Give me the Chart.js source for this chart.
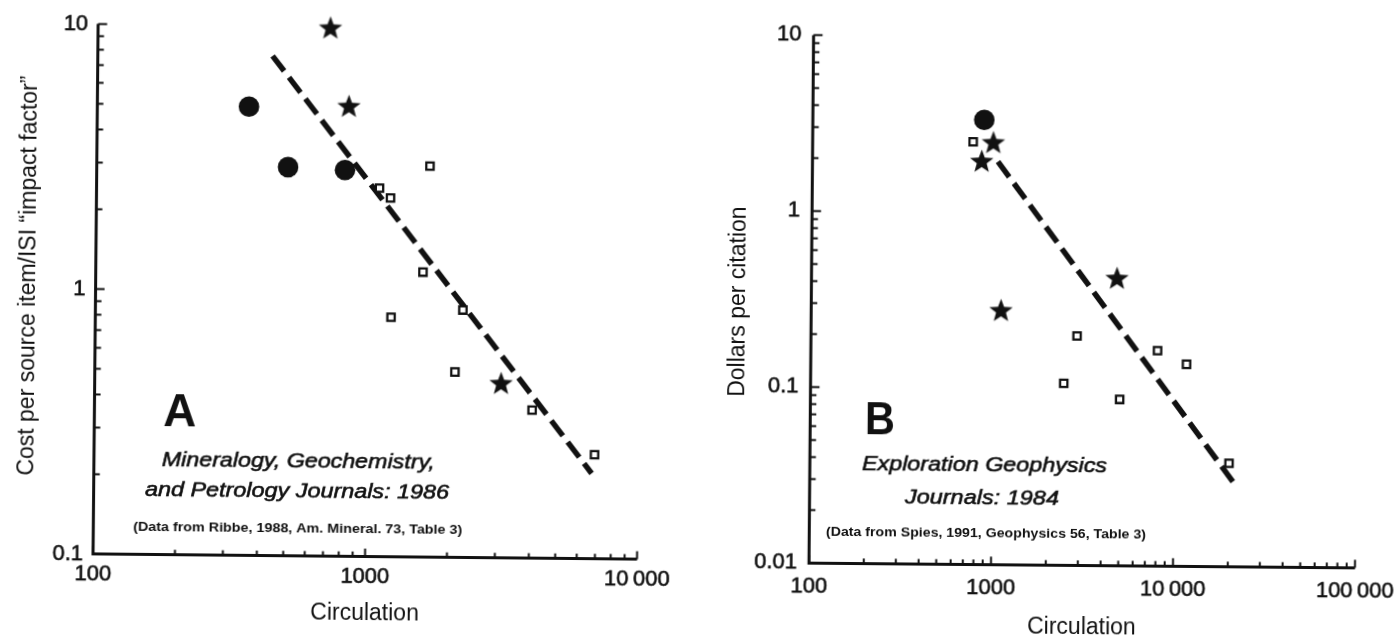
<!DOCTYPE html>
<html><head><meta charset="utf-8">
<script src="https://cdn.jsdelivr.net/npm/chart.js@4.4.1/dist/chart.umd.min.js"></script>
<style>
html,body{margin:0;padding:0;background:#fff;overflow:hidden;width:1398px;height:637px;position:relative;}
#wa{position:absolute;left:0;top:0;width:700px;height:637px;transform:rotate(0.55deg);transform-origin:365px 290px;}
#wb{position:absolute;left:700px;top:0;width:720px;height:645px;transform:rotate(0.5deg);transform-origin:381px 299px;}
</style></head><body>
<div id="wa"><canvas id="ca" width="700" height="637"></canvas></div>
<div id="wb"><canvas id="cb" width="720" height="645"></canvas></div>
<script>
const FONT = "'Liberation Sans', Arial, Helvetica, sans-serif";
const INK = '#111111';

// ---- Panel A: Mineralogy, Geochemistry, and Petrology Journals: 1986 ----
const A_STAR_X   = [715, 841, 3119];
const A_STAR_Y   = [9.8, 4.97, 0.453];
const A_CIRCLE_X = [361, 505, 818];
const A_CIRCLE_Y = [4.94, 2.93, 2.87];
const A_SQUARE_X = [1097, 1205, 1679, 1596, 2244, 1222, 2109, 4064, 6920];
const A_SQUARE_Y = [2.46, 2.26, 2.99, 1.19, 0.859, 0.802, 0.501, 0.362, 0.247];
const A_FIT_X    = [439, 6762];
const A_FIT_Y    = [7.69, 0.210];
const A_X_TICKS  = [100, 1000, 10000];
const A_X_LABELS = ['100', '1000', '10\u2009000'];
const A_Y_TICKS  = [0.1, 1, 10];
const A_Y_LABELS = ['0.1', '1', '10'];

// ---- Panel B: Exploration Geophysics Journals: 1984 ----
const B_STAR_X   = [984, 851, 4775, 1104];
const B_STAR_Y   = [2.48, 1.94, 0.426, 0.276];
const B_CIRCLE_X = [875];
const B_CIRCLE_Y = [3.36];
const B_SQUARE_X = [762, 2897, 2461, 8035, 11610, 5001, 20090];
const B_SQUARE_Y = [2.52, 0.201, 0.108, 0.1675, 0.1406, 0.0881, 0.0387];
const B_FIT_X    = [1045, 21340];
const B_FIT_Y    = [1.95, 0.030];
const B_X_TICKS  = [100, 1000, 10000, 100000];
const B_X_LABELS = ['100', '1000', '10\u2009000', '100\u2009000'];
const B_Y_TICKS  = [0.01, 0.1, 1, 10];
const B_Y_LABELS = ['0.01', '0.1', '1', '10'];

function pts(xs, ys){ return xs.map((x, i) => ({x: x, y: ys[i]})); }
function isMajor(v){ const l = Math.log10(v); return Math.abs(l - Math.round(l)) < 1e-6; }
function logTicks(min, max){
  const out = [];
  for (let d = Math.round(Math.log10(min)); d <= Math.round(Math.log10(max)); d++) {
    for (let m = 1; m <= 9; m++) {
      const v = Number((m * Math.pow(10, d)).toPrecision(6));
      if (v >= min * 0.9999 && v <= max * 1.0001) out.push(v);
    }
  }
  return out;
}
function labelFor(v, ticks, labels){
  for (let i = 0; i < ticks.length; i++) if (Math.abs(Math.log10(v) - Math.log10(ticks[i])) < 1e-6) return labels[i];
  return '';
}
function starCanvas(R){
  const s = Math.ceil(R * 2 + 2);
  const c = document.createElement('canvas'); c.width = s; c.height = s;
  const g = c.getContext('2d'); g.fillStyle = INK; g.beginPath();
  for (let i = 0; i < 10; i++) {
    const r = (i % 2) ? R * 0.42 : R;
    const a = -Math.PI / 2 + i * Math.PI / 5;
    g.lineTo(s / 2 + r * Math.cos(a), s / 2 + r * Math.sin(a));
  }
  g.closePath(); g.fill();
  return c;
}

const axisPlugin = {
  id: 'axesAndNotes',
  afterDraw(chart, args, opts){
    const ctx = chart.ctx, a = chart.chartArea, xs = chart.scales.x, ys = chart.scales.y;
    ctx.save();
    ctx.strokeStyle = INK; ctx.lineCap = 'butt'; ctx.lineJoin = 'miter';
    ctx.lineWidth = 3;
    ctx.beginPath(); ctx.moveTo(a.left, a.top); ctx.lineTo(a.left, a.bottom); ctx.lineTo(a.right, a.bottom); ctx.stroke();
    ctx.lineWidth = 2;
    ys.ticks.forEach(t => {
      const p = ys.getPixelForValue(t.value);
      const len = isMajor(t.value) ? 9 : 6;
      ctx.beginPath(); ctx.moveTo(a.left, p); ctx.lineTo(a.left + len, p); ctx.stroke();
    });
    xs.ticks.forEach(t => {
      const p = xs.getPixelForValue(t.value);
      const len = isMajor(t.value) ? 8 : 5;
      ctx.beginPath(); ctx.moveTo(p, a.bottom); ctx.lineTo(p, a.bottom - len); ctx.stroke();
    });
    ctx.fillStyle = INK;
    (opts.notes || []).forEach(n => {
      ctx.font = n.font;
      const m = ctx.measureText(n.text).width;
      ctx.save();
      ctx.translate(n.x, n.y);
      ctx.scale(n.w / m, 1);
      ctx.textAlign = 'center'; ctx.textBaseline = 'middle';
      ctx.fillText(n.text, 0, 0);
      if (n.stroke) { ctx.lineWidth = n.stroke; ctx.strokeText(n.text, 0, 0); }
      ctx.restore();
    });
    ctx.restore();
  }
};

function makeChart(id, P){
  const star = starCanvas(12.3);
  return new Chart(document.getElementById(id), {
    type: 'scatter',
    data: { datasets: [
      { data: pts(P.sqX, P.sqY), pointStyle: 'rect', pointRadius: 5.2, borderWidth: 2.3, borderColor: INK, backgroundColor: '#fff', clip: false },
      { data: pts(P.stX, P.stY), pointStyle: star, pointRadius: 12, clip: false },
      { data: pts(P.ciX, P.ciY), pointStyle: 'circle', pointRadius: 10.3, borderWidth: 0, backgroundColor: INK, clip: false },
      { data: pts(P.fitX, P.fitY), showLine: true, pointRadius: 0, borderColor: INK, borderWidth: 5.5, borderDash: [19, 8], borderCapStyle: 'butt', fill: false, clip: false }
    ]},
    options: {
      responsive: false, animation: false, events: [],
      layout: { padding: P.pad },
      plugins: { legend: { display: false }, tooltip: { enabled: false }, axesAndNotes: { notes: P.notes } },
      scales: {
        x: {
          type: 'logarithmic', position: 'bottom', min: P.xMin, max: P.xMax,
          afterBuildTicks: s => { s.ticks = logTicks(P.xMin, P.xMax).map(v => ({value: v})); },
          afterFit: s => { s.height = P.xH; },
          grid: { display: false, drawTicks: false },
          border: { display: false },
          ticks: { autoSkip: false, maxRotation: 0, minRotation: 0, padding: P.xPad, color: INK,
                   textStrokeColor: INK, textStrokeWidth: 0.6,
                   font: { family: FONT, size: 22 }, callback: v => labelFor(v, P.xT, P.xL) },
          title: { display: true, text: 'Circulation', color: INK, font: { family: FONT, size: 23, lineHeight: 1.2 },
                   padding: { top: 0, bottom: P.xTitlePad } }
        },
        y: {
          type: 'logarithmic', position: 'left', min: P.yMin, max: P.yMax,
          afterBuildTicks: s => { s.ticks = logTicks(P.yMin, P.yMax).map(v => ({value: v})); },
          afterFit: s => { s.width = P.yW; },
          grid: { display: false, drawTicks: false },
          border: { display: false },
          ticks: { autoSkip: false, padding: P.yPad, color: INK,
                   textStrokeColor: INK, textStrokeWidth: 0.6,
                   font: { family: FONT, size: 22 }, callback: v => labelFor(v, P.yT, P.yL) },
          title: { display: true, text: P.yTitle, color: INK, font: { family: FONT, size: 23, lineHeight: 1.2 },
                   padding: { top: P.yTitlePad, bottom: 0 } }
        }
      }
    },
    plugins: [axisPlugin]
  });
}

makeChart('ca', {
  sqX: A_SQUARE_X, sqY: A_SQUARE_Y, stX: A_STAR_X, stY: A_STAR_Y, ciX: A_CIRCLE_X, ciY: A_CIRCLE_Y,
  fitX: A_FIT_X, fitY: A_FIT_Y,
  xMin: 100, xMax: 10000, yMin: 0.1, yMax: 10,
  xT: A_X_TICKS, xL: A_X_LABELS, yT: A_Y_TICKS, yL: A_Y_LABELS,
  pad: { left: 0, top: 26.6, right: 60.4, bottom: 0 },
  xH: 80.4, yW: 95.6, xPad: 7, yPad: 10, xTitlePad: 10, yTitlePad: 15,
  yTitle: '    Cost per source item/ISI \u201Cimpact factor\u201D',
  notes: [
    { text: 'A', x: 181, y: 415.5, w: 33, font: 'bold 46px ' + FONT },
    { text: 'Mineralogy, Geochemistry,', x: 300, y: 462.5, w: 273, font: 'italic 21px ' + FONT, stroke: 0.6 },
    { text: 'and Petrology Journals: 1986', x: 299, y: 492.5, w: 304, font: 'italic 21px ' + FONT, stroke: 0.6 },
    { text: '(Data from Ribbe, 1988, Am. Mineral. 73, Table 3)', x: 300, y: 529.5, w: 329, font: 'bold 13px ' + FONT }
  ]
});

makeChart('cb', {
  sqX: B_SQUARE_X, sqY: B_SQUARE_Y, stX: B_STAR_X, stY: B_STAR_Y, ciX: B_CIRCLE_X, ciY: B_CIRCLE_Y,
  fitX: B_FIT_X, fitY: B_FIT_Y,
  xMin: 100, xMax: 100000, yMin: 0.01, yMax: 10,
  xT: B_X_TICKS, xL: B_X_LABELS, yT: B_Y_TICKS, yL: B_Y_LABELS,
  pad: { left: 0, top: 37.4, right: 62.7, bottom: 0 },
  xH: 79.6, yW: 111.3, xPad: 10.8, yPad: 12, xTitlePad: 3.2, yTitlePad: 25.2,
  yTitle: 'Dollars per citation ',
  notes: [
    { text: 'B', x: 181, y: 423.5, w: 30, font: 'bold 46px ' + FONT },
    { text: 'Exploration Geophysics', x: 286, y: 465.8, w: 245, font: 'italic 21px ' + FONT, stroke: 0.6 },
    { text: 'Journals: 1984', x: 283.7, y: 498.9, w: 154, font: 'italic 21px ' + FONT, stroke: 0.6 },
    { text: '(Data from Spies, 1991, Geophysics 56, Table 3)', x: 288, y: 534.8, w: 320, font: 'bold 13px ' + FONT }
  ]
});
</script>
</body></html>
